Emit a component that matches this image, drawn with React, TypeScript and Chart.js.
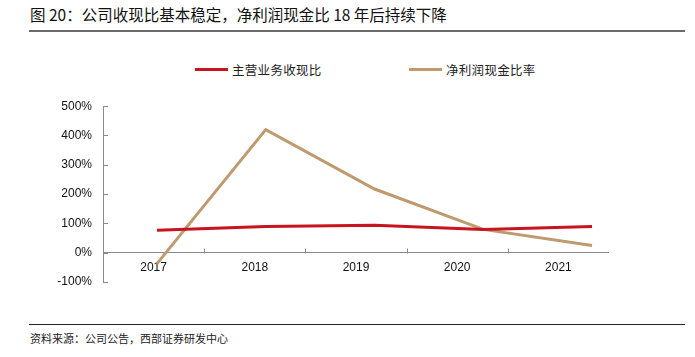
import React, { useEffect, useRef } from "react";
import { Chart, registerables } from "chart.js";

Chart.register(...registerables);

const years = ["2017", "2018", "2019", "2020", "2021"];
const revenueCashRatio = [76, 89, 93, 79, 89];
const netProfitCashRatio = [-38, 420, 217, 79, 24];
const yTicks = [-100, 0, 100, 200, 300, 400, 500];
const seriesNames = ["主营业务收现比", "净利润现金比率"];
const seriesColors = ["#C8141F", "#BF9A6E"];

const AXIS_COLOR = "#8a8a8a";
const FONT = "'Liberation Sans', Arial, sans-serif";
const CJK = "'Noto Sans CJK SC', sans-serif";

const innerTicks = {
  id: "innerTicks",
  afterDatasetsDraw(chart: any) {
    const ctx = chart.ctx;
    const y = chart.scales.y;
    const xl = chart.scales.xl;
    ctx.save();
    ctx.strokeStyle = AXIS_COLOR;
    ctx.lineWidth = 1;
    ctx.beginPath();
    yTicks.forEach((v) => {
      const py = Math.round(y.getPixelForValue(v)) + 0.5;
      ctx.moveTo(xl.left, py);
      ctx.lineTo(xl.left + 5, py);
    });
    const zero = Math.round(y.getPixelForValue(0)) + 0.5;
    const n = years.length;
    for (let i = 1; i <= n; i++) {
      const px = Math.round(xl.left + (xl.width * i) / n) + 0.5;
      ctx.moveTo(px, zero);
      ctx.lineTo(px, zero - 5);
    }
    ctx.stroke();
    ctx.restore();
  },
};

export default function App() {
  const ref = useRef<HTMLCanvasElement>(null);

  useEffect(() => {
    if (!ref.current) return;
    const chart = new Chart(ref.current, {
      type: "line",
      data: {
        datasets: [
          {
            label: seriesNames[0],
            data: revenueCashRatio.map((v, i) => ({ x: i, y: v })),
            borderColor: seriesColors[0],
            backgroundColor: seriesColors[0],
            borderWidth: 3,
            pointRadius: 0,
            tension: 0,
            xAxisID: "x",
            yAxisID: "y",
          },
          {
            label: seriesNames[1],
            data: netProfitCashRatio.map((v, i) => ({ x: i, y: v })),
            borderColor: seriesColors[1],
            backgroundColor: seriesColors[1],
            borderWidth: 3,
            pointRadius: 0,
            tension: 0,
            xAxisID: "x",
            yAxisID: "y",
          },
        ],
      },
      options: {
        animation: false,
        responsive: false,
        maintainAspectRatio: false,
        layout: { padding: 0 },
        plugins: {
          legend: { display: false },
          tooltip: { enabled: false },
        },
        scales: {
          x: {
            type: "linear",
            display: false,
            min: -0.4966,
            max: 4.156,
          },
          xl: {
            type: "category",
            axis: "x",
            labels: years,
            offset: true,
            position: { y: 0 } as any,
            grid: {
              display: true,
              drawOnChartArea: false,
              drawTicks: true,
              tickLength: 8,
              color: "rgba(0,0,0,0)",
            },
            border: { display: true, color: AXIS_COLOR, width: 1 },
            ticks: {
              padding: 0,
              maxRotation: 0,
              autoSkip: false,
              color: "#111",
              font: { family: FONT, size: 12 },
            },
          },
          y: {
            type: "linear",
            min: -100,
            max: 500,
            afterFit: (scale: any) => {
              scale.width = 63;
            },
            grid: { display: false, drawTicks: false },
            border: { display: true, color: AXIS_COLOR, width: 1 },
            ticks: {
              stepSize: 100,
              padding: 11,
              color: "#111",
              font: { family: FONT, size: 12 },
              callback: (v: any) => v + "%",
            },
          },
        },
      },
      plugins: [innerTicks],
    });
    return () => chart.destroy();
  }, []);

  return (
    <div
      style={{
        position: "fixed",
        left: 0,
        top: 0,
        width: 695,
        height: 357,
        background: "#fff",
        overflow: "hidden",
      }}
    >
      <div
        style={{
          position: "absolute",
          left: 30,
          top: 3,
          fontFamily: CJK,
          fontSize: 15.5,
          lineHeight: "22px",
          color: "#111",
          whiteSpace: "nowrap",
        }}
      >
        图 20：公司收现比基本稳定，净利润现金比 18 年后持续下降
      </div>
      <div
        style={{
          position: "absolute",
          left: 29,
          top: 30,
          width: 656,
          height: 2,
          background: "#6a6a6a",
        }}
      />
      {seriesNames.map((name, i) => (
        <div
          key={name}
          style={{
            position: "absolute",
            left: i === 0 ? 195 : 409,
            top: 60,
            height: 18,
            display: "flex",
            alignItems: "center",
            whiteSpace: "nowrap",
          }}
        >
          <div style={{ width: 33, height: 3, background: seriesColors[i] }} />
          <span
            style={{
              marginLeft: 4,
              fontFamily: CJK,
              fontSize: 12.5,
              color: "#222",
              letterSpacing: 0.3,
            }}
          >
            {name}
          </span>
        </div>
      ))}
      <canvas
        ref={ref}
        width={569}
        height={212}
        style={{ position: "absolute", left: 40, top: 88, width: 569, height: 212 }}
      />
      <div
        style={{
          position: "absolute",
          left: 29,
          top: 324,
          width: 656,
          height: 1,
          background: "#222",
        }}
      />
      <div
        style={{
          position: "absolute",
          left: 30,
          top: 330,
          fontFamily: CJK,
          fontSize: 11,
          lineHeight: "16px",
          color: "#222",
          whiteSpace: "nowrap",
        }}
      >
        资料来源：公司公告，西部证券研发中心
      </div>
    </div>
  );
}
